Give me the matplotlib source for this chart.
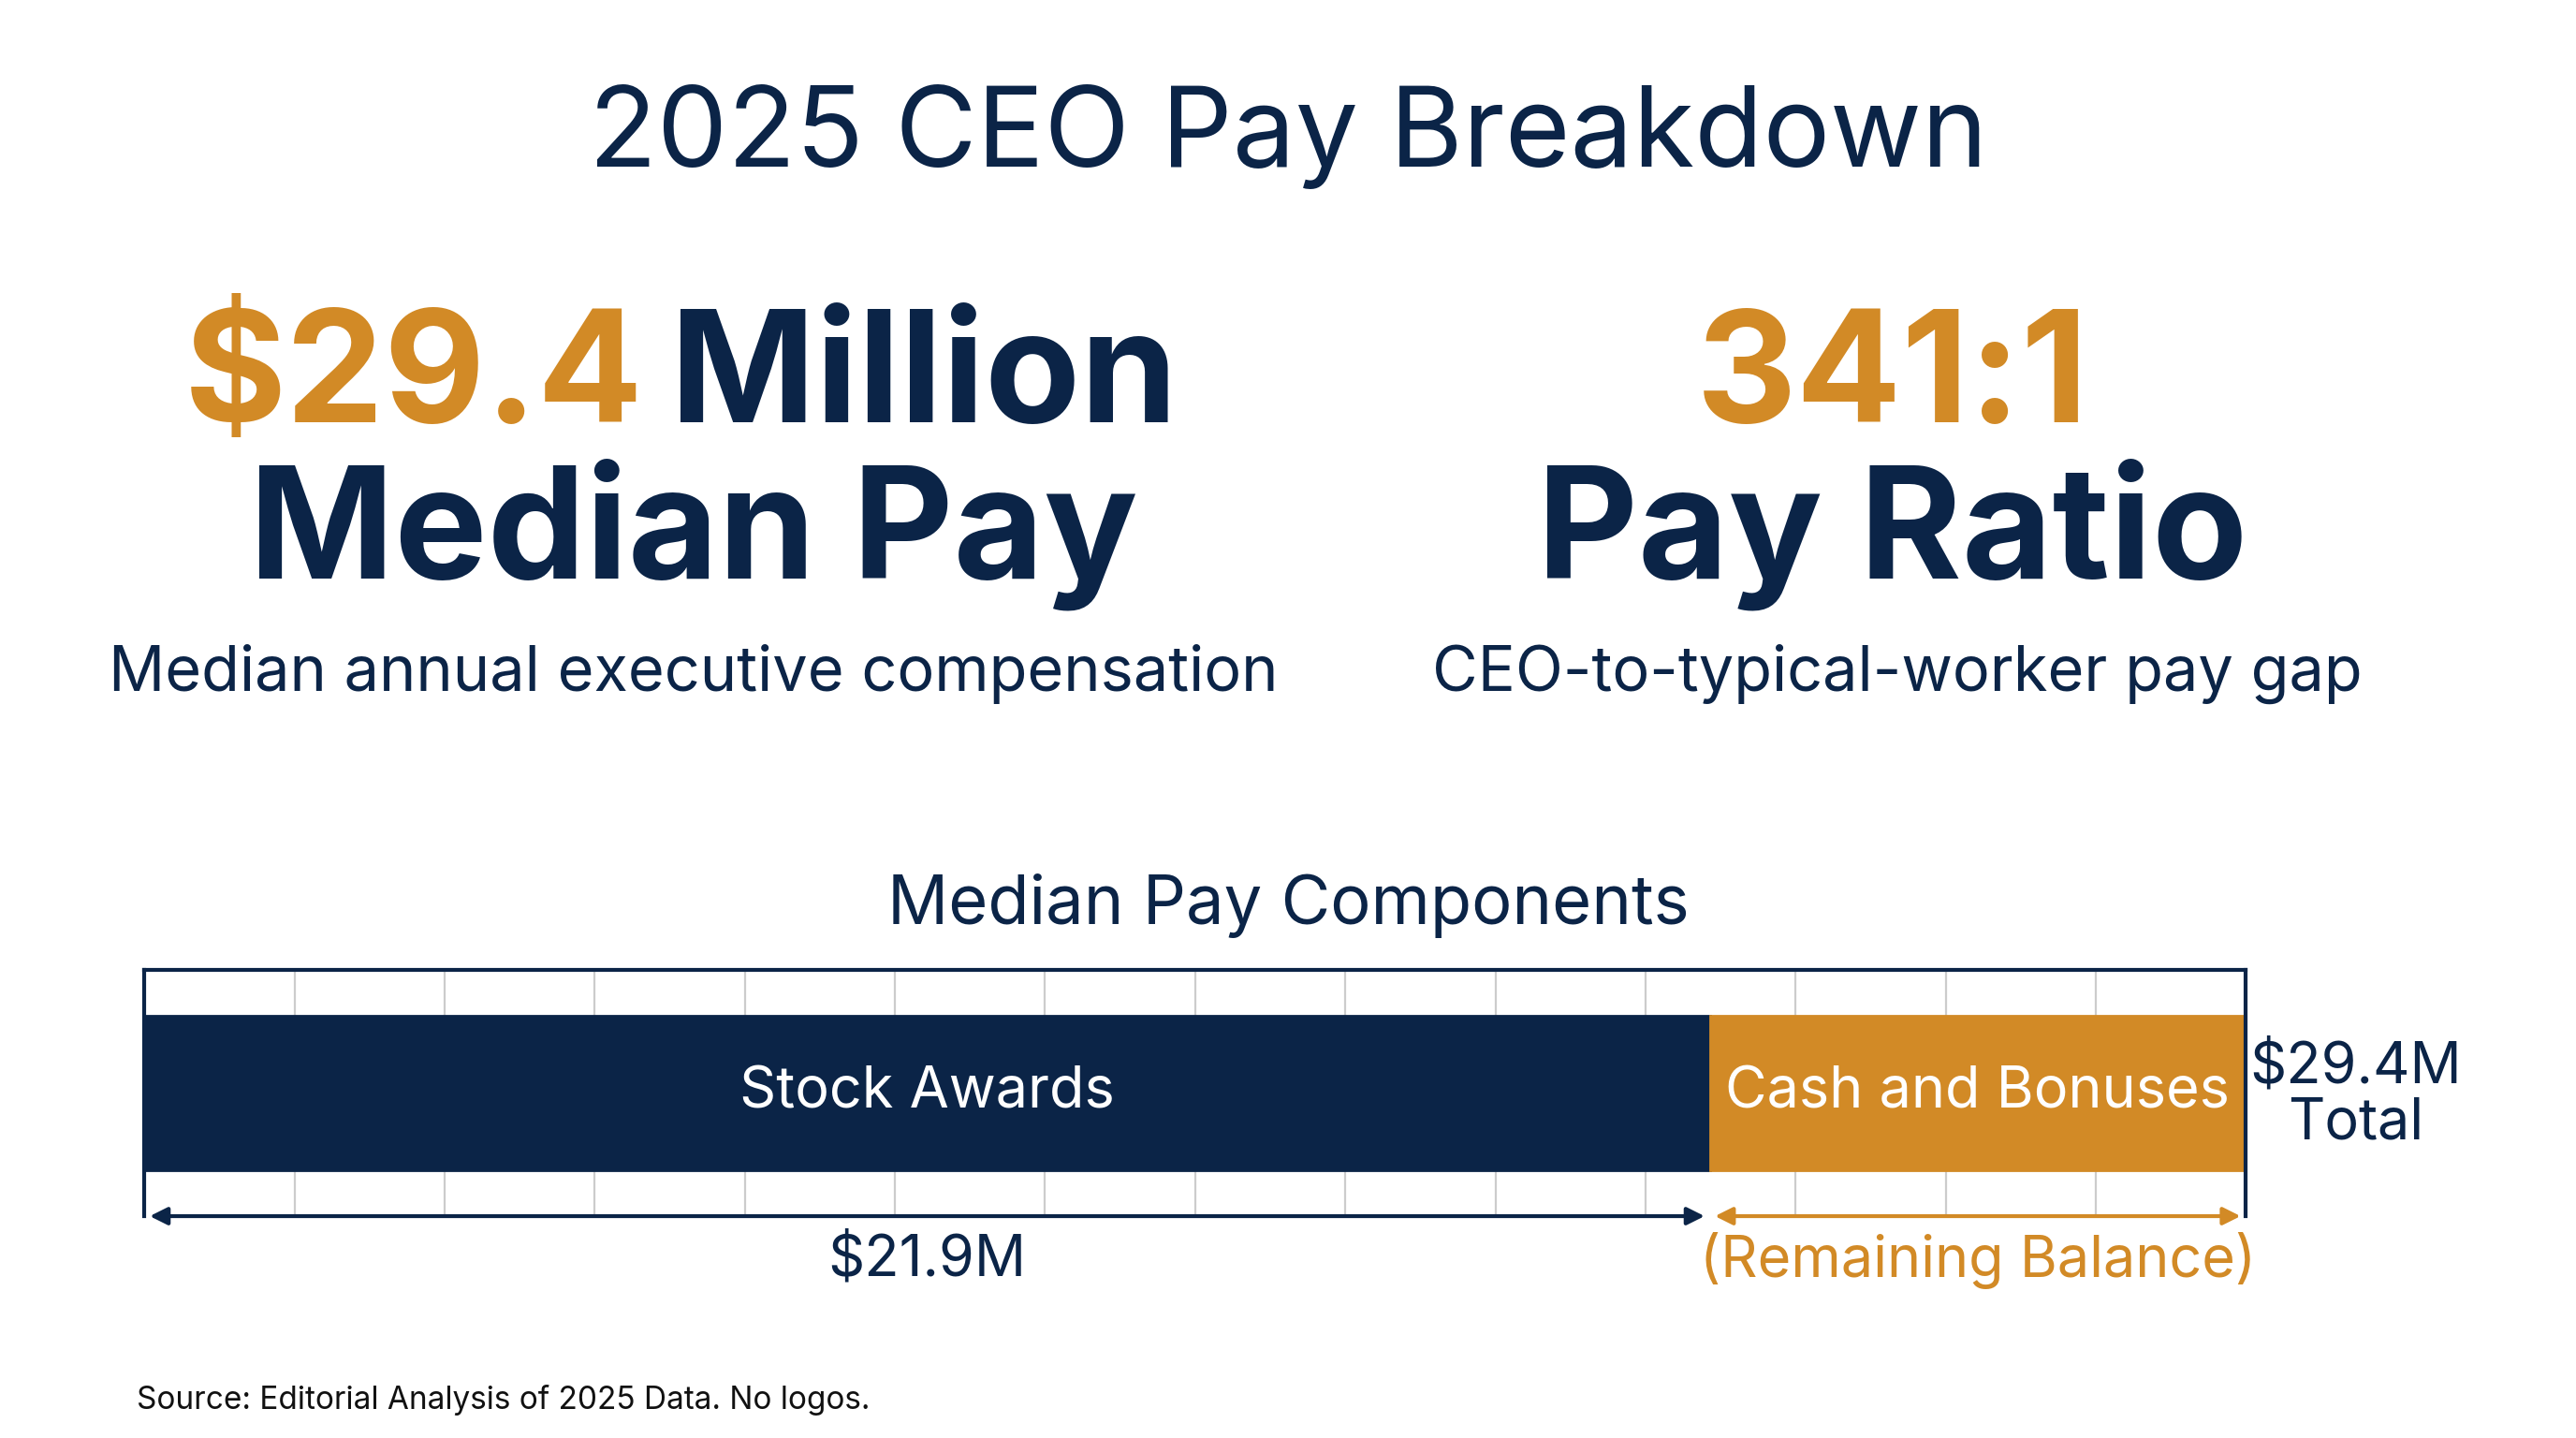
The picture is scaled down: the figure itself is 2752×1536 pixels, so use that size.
import matplotlib.pyplot as plt
from matplotlib.patches import Rectangle

plt.rcParams['font.family'] = ['Inter', 'DejaVu Sans']

navy = '#0B2447'
gold = '#D28A26'

components = ['Stock Awards', 'Cash and Bonuses']
values = [21.9, 7.5]          # $M
total = 29.4
tick_step = 2.1
value_labels = ['$21.9M', '(Remaining Balance)']

W, H = 1568, 875
fig = plt.figure(figsize=(13.76, 7.68), dpi=200)
bg = fig.add_axes([0, 0, 1, 1])
bg.set_xlim(0, W)
bg.set_ylim(H, 0)
bg.axis('off')

bg.text(784, 83, '2025 CEO Pay Breakdown', ha='center', va='center', fontsize=43, color=navy)

bg.text(392, 232, '$29.4', ha='right', va='center', fontsize=60, fontweight='bold', color=gold)
bg.text(408, 232, 'Million', ha='left', va='center', fontsize=60, fontweight='bold', color=navy)
bg.text(422, 325, 'Median Pay', ha='center', va='center', fontsize=60, fontweight='bold', color=navy)
bg.text(422, 410, 'Median annual executive compensation', ha='center', va='center', fontsize=24, color=navy)

bg.text(1152, 232, '341:1', ha='center', va='center', fontsize=60, fontweight='bold', color=gold)
bg.text(1152, 325, 'Pay Ratio', ha='center', va='center', fontsize=60, fontweight='bold', color=navy)
bg.text(1155, 410, 'CEO-to-typical-worker pay gap', ha='center', va='center', fontsize=24, color=navy)

bg.text(784, 551, 'Median Pay Components', ha='center', va='center', fontsize=26, color=navy)
bg.text(83, 852, 'Source: Editorial Analysis of 2025 Data. No logos.', ha='left', va='center',
        fontsize=12, color='#111111')

# bar panel
x0, x1, ytop, ybot = 88, 1367, 590, 740
ax = fig.add_axes([x0 / W, 1 - ybot / H, (x1 - x0) / W, (ybot - ytop) / H])
ax.set_xlim(0, total)
ax.set_ylim(0, 1)
ax.axis('off')

t = tick_step
while t < total - 0.01:
    ax.plot([t, t], [0, 1], color='#cccccc', lw=0.8, zorder=0)
    t += tick_step

b0, b1 = 28 / 150, 122 / 150
colors = [navy, gold]
left = 0
for name, v, c in zip(components, values, colors):
    ax.add_patch(Rectangle((left, b0), v, b1 - b0, color=c, zorder=2))
    ax.text(left + v / 2, (b0 + b1) / 2, name, ha='center', va='center', fontsize=22,
            color='white', zorder=3)
    left += v

ax.plot([0, total], [1, 1], color=navy, lw=1.5, clip_on=False)
ax.plot([0, 0], [0, 1], color=navy, lw=1.5, clip_on=False)
ax.plot([total, total], [0, 1], color=navy, lw=1.5, clip_on=False)

s = values[0]
ax.annotate('', xy=(0, 0), xytext=(s, 0),
            arrowprops=dict(arrowstyle='<|-|>', color=navy, lw=1.5, mutation_scale=14), annotation_clip=False)
ax.annotate('', xy=(s, 0), xytext=(total, 0),
            arrowprops=dict(arrowstyle='<|-|>', color=gold, lw=1.5, mutation_scale=14), annotation_clip=False)
ax.text(s / 2, -0.18, value_labels[0], ha='center', va='center', fontsize=22, color=navy, clip_on=False)
ax.text((s + total) / 2, -0.18, value_labels[1], ha='center', va='center', fontsize=22, color=gold, clip_on=False)

bg.text(1434, 667, '$29.4M\nTotal', ha='center', va='center', fontsize=22, color=navy, linespacing=1.05)

fig.savefig('out.png', dpi=200)
